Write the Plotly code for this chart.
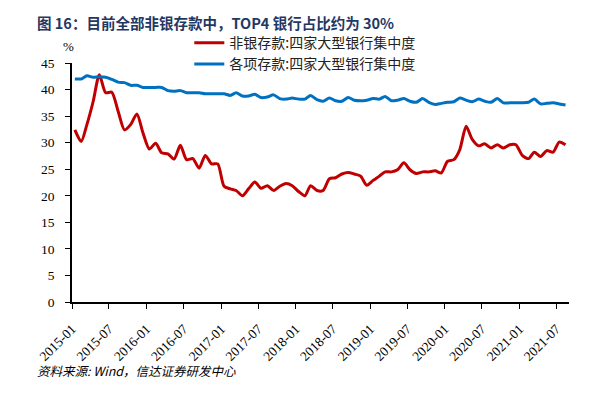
import plotly.graph_objects as go
import pandas as pd

months = pd.date_range("2015-01-01", periods=80, freq="MS") + pd.Timedelta(days=14)
dates = [d.strftime("%Y-%m-%d") for d in months]

nonbank = [32.4, 30.2, 33.4, 37.8, 42.8, 39.4, 39.5, 35.9, 32.4, 33.4,
           35.4, 31.8, 28.8, 29.9, 28.1, 27.9, 26.9, 29.5, 26.8, 27.0,
           25.2, 27.6, 26.0, 26.0, 21.8, 21.3, 21.0, 20.0, 21.3, 22.6,
           21.4, 21.9, 21.0, 21.8, 22.3, 21.9, 20.8, 20.0, 21.9, 21.0,
           21.0, 23.2, 23.4, 24.1, 24.4, 24.1, 23.7, 22.0, 22.9, 23.7,
           24.5, 24.5, 24.9, 26.2, 24.9, 24.2, 24.5, 24.5, 24.7, 24.3,
           26.5, 26.8, 28.7, 33.1, 30.6, 29.4, 29.8, 29.0, 29.6, 29.0,
           29.6, 29.6, 27.6, 27.0, 28.2, 27.4, 28.5, 28.2, 30.1, 29.6]

alldep = [42.0, 42.0, 42.6, 42.3, 42.4, 42.3, 41.9, 41.4, 41.3, 40.8,
          40.8, 40.4, 40.4, 40.4, 40.4, 39.8, 39.7, 39.8, 39.4, 39.4,
          39.4, 39.2, 39.2, 39.2, 39.2, 38.9, 39.4, 38.8, 38.8, 39.1,
          38.5, 38.6, 39.0, 38.3, 38.2, 38.4, 38.2, 38.2, 38.9, 38.1,
          37.8, 38.4, 37.9, 37.8, 38.5, 38.0, 37.9, 38.0, 38.3, 38.2,
          38.7, 37.9, 38.0, 38.3, 37.8, 37.6, 38.3, 37.6, 37.2, 37.4,
          37.6, 37.7, 38.4, 38.0, 37.7, 38.2, 37.8, 37.6, 38.3, 37.5,
          37.5, 37.5, 37.5, 37.6, 38.2, 37.3, 37.4, 37.5, 37.3, 37.1]

name_nonbank = "非银存款:四家大型银行集中度"
name_all = "各项存款:四家大型银行集中度"
title_text = "图 16：目前全部非银存款中，TOP4 银行占比约为 30%"
source_text = "资料来源: Wind，信达证券研发中心"

serif = "Liberation Serif"
cjk = "Noto Sans CJK SC"

fig = go.Figure()
fig.add_trace(go.Scatter(x=dates, y=nonbank, mode="lines", name=name_nonbank,
                         line=dict(color="#C00000", width=3, shape="spline", smoothing=0.7)))
fig.add_trace(go.Scatter(x=dates, y=alldep, mode="lines", name=name_all,
                         line=dict(color="#0070C0", width=3, shape="spline", smoothing=0.7)))

fig.update_layout(
    width=610, height=396,
    margin=dict(l=72, r=41, t=63, b=94),
    paper_bgcolor="white", plot_bgcolor="white",
    showlegend=True,
    legend=dict(x=0.236, y=1.15, xanchor="left", yanchor="top",
                font=dict(family=cjk, size=14, color="#222"),
                itemwidth=30, tracegroupgap=0, bgcolor="rgba(0,0,0,0)"),
    xaxis=dict(type="date", range=["2015-01-01", "2021-09-01"],
               tick0="2015-01-01", dtick="M6", tickformat="%Y-%m",
               tickangle=-45, ticks="outside", ticklen=5, tickcolor="black",
               showline=True, linecolor="black", linewidth=1.5,
               showgrid=False, zeroline=False, ticklabelstandoff=7,
               tickfont=dict(family=serif, size=13.5, color="black")),
    yaxis=dict(range=[0, 45], dtick=5, ticks="outside", ticklen=5, tickcolor="black",
               showline=True, linecolor="black", linewidth=1.5,
               showgrid=False, zeroline=False, ticklabelstandoff=8,
               tickfont=dict(family=serif, size=13.5, color="black")),
)

fig.add_annotation(text="<b>" + title_text + "</b>", xref="paper", yref="paper",
                   x=(35 - 72) / 497, y=(302 - 22) / 239, xanchor="left", yanchor="middle",
                   showarrow=False, font=dict(family=cjk, size=14.5, color="#1F3864"))
fig.add_annotation(text="%", xref="paper", yref="paper",
                   x=(68 - 72) / 497, y=(302 - 46) / 239, xanchor="center", yanchor="middle",
                   showarrow=False, font=dict(family=serif, size=13, color="black"))
fig.add_annotation(text="<i>" + source_text + "</i>", xref="paper", yref="paper",
                   x=(35 - 72) / 497, y=(302 - 370) / 239, xanchor="left", yanchor="middle",
                   showarrow=False, font=dict(family=cjk, size=12.5, color="black"))

fig.write_html("out.html", config={"displayModeBar": False},
               post_script="document.body.style.margin='0';")
